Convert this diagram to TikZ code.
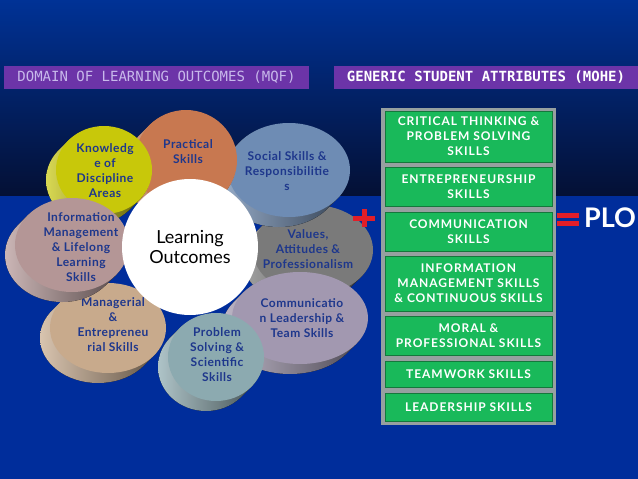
\documentclass[tikz,border=0pt]{standalone}
\usepackage{fontspec}
\setmainfont{Lato}
\newfontfamily\hdrfont{DejaVu Sans Mono}
\newfontfamily\petalfont[LetterSpace=4]{Lato}
\newfontfamily\attrfont[LetterSpace=8]{Lato}
\usepackage{tikz}
\usetikzlibrary{positioning}

\definecolor{bgtop}{RGB}{0,50,150}
\definecolor{bgmid}{RGB}{2,28,95}
\definecolor{bgdark}{RGB}{4,16,52}
\definecolor{bglow}{RGB}{0,45,155}
\definecolor{hdrpurple}{RGB}{108,52,168}
\definecolor{hdrlilac}{RGB}{200,185,235}
\definecolor{petalblue}{RGB}{30,55,140}
\definecolor{attrgreen}{RGB}{25,185,90}
\definecolor{attredge}{RGB}{20,120,60}
\definecolor{attrframe}{RGB}{150,160,160}
\definecolor{plored}{RGB}{225,30,40}
\definecolor{knowyellow}{RGB}{200,200,10}
\definecolor{practorange}{RGB}{200,120,80}
\definecolor{socialblue}{RGB}{110,140,180}
\definecolor{valuesgray}{RGB}{122,122,122}
\definecolor{commlilac}{RGB}{162,152,176}
\definecolor{probteal}{RGB}{140,170,176}
\definecolor{mgmttan}{RGB}{200,170,140}
\definecolor{infomauve}{RGB}{180,150,150}

% disc with its side: name, face x, face y, rx, ry, colour, text x, text y, text
\newcommand\petal[9]{%
  \fill[left color=#6!70!white, right color=#6!45!black]
    \foreach \k in {10,...,1} {({#2-1.0*\k},{#3+1.0*\k}) ellipse ({#4} and {#5})};
  \fill[#6] (#2,#3) ellipse ({#4} and {#5});
  \node[petaltext] (#1) at (#7,#8) {#9};
}

\begin{document}
\begin{tikzpicture}
  [x=1pt, y=-1pt,
   petaltext/.style={text=petalblue, align=center, inner sep=0pt,
                     font=\petalfont\fontsize{12}{15}\selectfont\bfseries},
   header/.style={fill=hdrpurple, minimum height=23pt, inner sep=0pt,
                  font=\hdrfont\fontsize{14}{14}\selectfont},
   attr/.style={rectangle, fill=attrgreen, draw=attredge, line width=0.6pt,
                text=white, align=center, minimum width=167pt, inner sep=0pt,
                font=\attrfont\fontsize{12}{15}\selectfont\bfseries}]
  \useasboundingbox (0,0) rectangle (638,479);

  % background
  \fill[top color=bgtop, middle color=bgmid, bottom color=bgdark] (0,0) rectangle (638,196);
  \fill[bglow] (0,196) rectangle (638,479);

  % headers
  \node[header, minimum width=305pt, text=hdrlilac] (mqf) at (156.5,77.5)
    {DOMAIN OF LEARNING OUTCOMES (MQF)};
  \node[header, minimum width=304pt, text=white] (mohe) at (486,77.5)
    {\bfseries GENERIC STUDENT ATTRIBUTES (MOHE)};

  % learning outcome discs
  \petal{values}{313}{250}{60}{45}{valuesgray}{308}{249}{Values,\\Attitudes \&\\Professionalism}
  \petal{social}{289}{170}{61}{47}{socialblue}{287}{171}{Social Skills \&\\Responsibilitie\\s}
  \petal{practical}{186}{160}{51}{50}{practorange}{188}{152}{Practical\\Skills}
  \petal{knowledge}{104}{170}{48}{44}{knowyellow}{105}{171}{Knowledg\\e of\\Discipline\\Areas}
  \petal{managerial}{108}{328}{58}{45}{mgmttan}{113}{325}{Managerial\\\&\\Entrepreneu\\rial Skills}
  \petal{info}{72}{245}{57}{47}{infomauve}{81}{247}{Information\\Management\\\& Lifelong\\Learning\\Skills}
  \petal{comm}{300}{318}{68}{46}{commlilac}{302}{318}{Communicatio\\n Leadership \&\\Team Skills}
  \petal{problem}{216}{357}{48}{44}{probteal}{217}{355}{Problem\\Solving \&\\Scientific\\Skills}

  \node[circle, fill=white, minimum size=136pt, inner sep=0pt, align=center,
        font=\fontsize{18}{20}\selectfont] (lo) at (190,247) {Learning\\Outcomes};

  % plus sign
  \fill[plored] (353,215.5) rectangle (375,221);
  \fill[plored] (361.5,209) rectangle (367,227);

  % student attributes
  \fill[attrframe] (381,108) rectangle (556,425);
  \node[attr, minimum height=51pt] (critical) at (468.5,136.5) {CRITICAL THINKING \&\\PROBLEM SOLVING\\SKILLS};
  \node[attr, minimum height=39pt] (entre) at (468.5,186.5) {ENTREPRENEURSHIP\\SKILLS};
  \node[attr, minimum height=39pt] (commskill) at (468.5,231.5) {COMMUNICATION\\SKILLS};
  \node[attr, minimum height=55pt] (infoskill) at (468.5,283.5) {INFORMATION\\MANAGEMENT SKILLS\\\& CONTINUOUS SKILLS};
  \node[attr, minimum height=39pt] (moral) at (468.5,335.5) {MORAL \&\\PROFESSIONAL SKILLS};
  \node[attr, minimum height=26pt] (team) at (468.5,374) {TEAMWORK SKILLS};
  \node[attr, minimum height=28pt] (lead) at (468.5,407) {LEADERSHIP SKILLS};

  % equals and PLO
  \fill[plored] (557,213) rectangle (579,218);
  \fill[plored] (557,221) rectangle (579,226);
  \node[text=white, font=\fontsize{27}{27}\selectfont\bfseries, inner sep=0pt] (plo) at (610,218) {PLO};
\end{tikzpicture}
\end{document}
